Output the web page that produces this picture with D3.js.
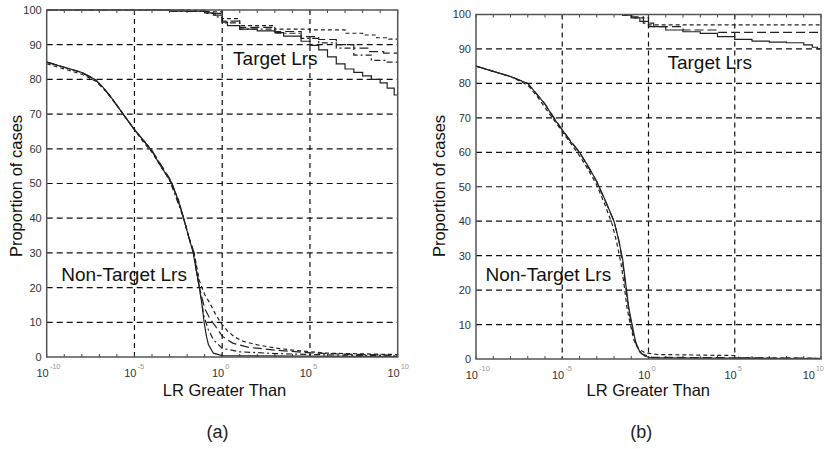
<!DOCTYPE html>
<html>
<head>
<meta charset="utf-8">
<script src="https://cdn.jsdelivr.net/npm/d3@7"></script>
<style>
  body { margin: 0; background: #fff; }
  svg { display: block; }
  text { font-family: "Liberation Sans", Arial, sans-serif; }
</style>
</head>
<body>
<div id="chart"></div>
<script>
// exponents of LR on the x axis, percent of cases on y
var xTicks = [-10, -5, 0, 5, 10];
var yTicks = [0, 10, 20, 30, 40, 50, 60, 70, 80, 90, 100];
var minorTicks = d3.range(-10, 11);

// panel (a)
var nonTargetA1 = [[-10, 85], [-9, 83.5], [-8, 82], [-7.6, 81], [-7.2, 79.8], [-6.8, 77.8], [-6.4, 75.3], [-6, 72.5], [-5.5, 69], [-5, 65.5], [-4.5, 62.5], [-4, 59.3], [-3.5, 55], [-2.85, 50], [-2.5, 45], [-2.2, 40], [-1.9, 34.5], [-1.65, 30], [-1.45, 24], [-1.3, 20], [-1.15, 15], [-1.03, 10], [-0.9, 6], [-0.78, 3.5], [-0.5, 1.1], [0, 0.4], [10, 0.1]];
var nonTargetA2 = [[-10, 84.5], [-9, 83], [-8, 81.5], [-7.2, 79.5], [-6.5, 76], [-6, 72.5], [-5.5, 69], [-5, 65.5], [-4.5, 62], [-4, 59], [-3.5, 55], [-3, 51], [-2.5, 45.5], [-2.2, 40], [-1.9, 34.5], [-1.6, 30], [-1.3, 22], [-1.0, 18], [-0.7, 15.5], [-0.4, 12.5], [-0.1, 10], [0.3, 7.5], [0.7, 5.8], [1.2, 4.5], [2, 3.5], [3, 2.6], [4, 2], [5, 1.5], [6, 1.1], [8, 0.9], [10, 0.7]];
var nonTargetA3 = [[-10, 85], [-9, 83.5], [-8, 82], [-7.2, 79.8], [-6.6, 76.5], [-6, 72.5], [-5, 65.5], [-4, 59.5], [-3, 51.5], [-2.5, 45], [-2.2, 40], [-1.9, 34.5], [-1.6, 30], [-1.3, 20], [-1.0, 14], [-0.7, 11], [-0.4, 9], [0, 6], [0.6, 4], [1.5, 2.8], [3, 2], [5, 1.2], [7, 0.8], [10, 0.5]];
var nonTargetA4 = [[-10, 85], [-8, 82], [-7.2, 79.8], [-6.6, 76.5], [-6, 72.5], [-5, 65.5], [-4, 59.5], [-3, 51], [-2.2, 40], [-1.65, 30], [-1.3, 20], [-1.05, 12], [-0.8, 8], [-0.5, 5], [0, 2.5], [1, 1.5], [3, 1], [6, 0.6], [10, 0.3]];
var targetA1 = [[-10, 100], [-6, 100], [-3, 99.7], [-1, 99.2], [-0.5, 98.5], [0, 96.5], [0.3, 95.5], [1, 94.5], [2, 94], [3, 93.5], [3.5, 92.5], [4.5, 91], [5, 89.8], [5.5, 88.5], [6, 86.5], [6.5, 84.5], [7, 83], [7.5, 82], [8, 81], [8.5, 80], [9, 79], [9.4, 77.5], [9.8, 75.5], [10, 75.5]];
var targetA2 = [[-10, 100], [-6, 100], [-3, 99.6], [-1, 99], [-0.4, 98], [0, 96.3], [1, 94.5], [3, 93.3], [4.5, 91.8], [5.5, 90.5], [6.5, 89], [7.5, 87], [8.5, 85.5], [9.3, 85], [10, 85]];
var targetA3 = [[-10, 100], [-6, 100], [-2, 99.6], [-0.8, 99], [0, 96.8], [1, 95], [3, 93.8], [4.5, 92.3], [5.5, 91.5], [6.5, 90], [7.5, 89], [8.3, 88], [9.2, 87.6], [10, 87.6]];
var targetA4 = [[-10, 100], [-5, 100], [-1, 99.5], [0, 97.5], [1, 95.5], [3, 94.5], [5, 94.3], [7, 93.3], [8, 92.8], [8.8, 92], [9.5, 91.6], [10, 91.6]];

// panel (b)
var nonTargetB1 = [[-10, 85], [-9, 83.5], [-8, 82], [-7.5, 81], [-7, 80], [-6.5, 77], [-6, 74], [-5.5, 70], [-5, 66.5], [-4.5, 63], [-4, 60], [-3.5, 56], [-3, 51.5], [-2.5, 46], [-2, 40], [-1.75, 35], [-1.5, 29], [-1.3, 21], [-1.15, 15], [-0.95, 10], [-0.75, 5], [-0.5, 2], [-0.2, 0.8], [0.2, 0.3], [10, 0.1]];
var nonTargetB2 = [[-10, 85], [-9, 83.5], [-8, 82], [-7, 79.5], [-6.5, 76.5], [-6, 73], [-5.5, 69.5], [-5, 66], [-4.5, 62.5], [-4, 59], [-3.5, 55], [-3, 50.5], [-2.5, 44.5], [-2.1, 39], [-1.85, 34], [-1.6, 28], [-1.4, 21], [-1.25, 15], [-1.05, 10], [-0.85, 5.5], [-0.6, 3], [-0.2, 1.8], [0.5, 1.3], [5, 1], [5.3, 0.3], [10, 0.2]];
var nonTargetB3 = [[-10, 85], [-8, 82], [-7, 80], [-6, 74], [-5, 66.5], [-4, 60], [-3, 51.5], [-2, 40], [-1.7, 34], [-1.5, 28], [-1.3, 20], [-1.1, 13], [-0.92, 8], [-0.7, 4], [-0.4, 1.5], [0.2, 0.5], [10, 0.2]];
var targetB1 = [[-10, 100], [-2, 100], [-1.5, 99.8], [-1, 99], [-0.5, 98], [0, 96.5], [1, 95.5], [2, 95], [3, 94.5], [4, 93.6], [5, 92.8], [6, 92.3], [7, 92], [8, 91.8], [9, 91.2], [9.5, 90.5], [9.8, 90], [10, 90]];
var targetB2 = [[-10, 100], [-1.5, 99.8], [-1, 99.3], [-0.3, 97.5], [0.3, 96.5], [2, 95.5], [4, 94.8], [10, 94.7]];
var targetB3 = [[-10, 100], [-1.5, 99.9], [-0.8, 99], [0, 97], [10, 96.8]];

var captions = ['(a)', '(b)'];
var xTitle = 'LR Greater Than';
var yTitle = 'Proportion of cases';

var width = 825, height = 449;
var svg = d3.select('#chart').append('svg')
    .attr('width', width)
    .attr('height', height);

var dashes = ['none', '4,3', '9,4', '6,3,2,3'];

var panels = [
    {
        left: 46.7, right: 397.7, top: 10, bottom: 357,
        nonTarget: [nonTargetA1, nonTargetA2, nonTargetA3, nonTargetA4],
        target: [targetA1, targetA4, targetA3, targetA2],
        targetLabel: [0.62, 84.2],
        nonTargetLabel: [-9.17, 21.9],
        caption: captions[0], yTitleX: 22, xTitleX: 224.5
    },
    {
        left: 476, right: 821, top: 14.5, bottom: 359,
        nonTarget: [nonTargetB1, nonTargetB2, nonTargetB3],
        target: [targetB1, targetB3, targetB2],
        targetLabel: [1.1, 84.2],
        nonTargetLabel: [-9.45, 22.6],
        caption: captions[1], yTitleX: 445, xTitleX: 648.3
    }
];

panels.forEach(function(p, pi) {
    var x = d3.scaleLog()
        .domain([1e-10, 1e10])
        .range([p.left, p.right]);
    var y = d3.scaleLinear()
        .domain([0, 100])
        .range([p.bottom, p.top]);
    var g = svg.append('g');

    var clipId = 'clip' + pi;
    svg.append('clipPath').attr('id', clipId)
        .append('rect')
        .attr('x', p.left).attr('y', p.top - 1)
        .attr('width', p.right - p.left).attr('height', p.bottom - p.top + 1);

    // grid lines
    g.selectAll('.hgrid')
        .data(yTicks.filter(function(d) { return d > 0 && d < 100; }))
        .enter().append('line')
        .attr('x1', p.left).attr('x2', p.right)
        .attr('y1', function(d) { return y(d); })
        .attr('y2', function(d) { return y(d); })
        .attr('stroke', '#111')
        .attr('stroke-width', 1.2)
        .attr('stroke-dasharray', '6,4');
    g.selectAll('.vgrid')
        .data(xTicks.filter(function(d) { return d > -10 && d < 10; }))
        .enter().append('line')
        .attr('x1', function(d) { return x(Math.pow(10, d)); })
        .attr('x2', function(d) { return x(Math.pow(10, d)); })
        .attr('y1', p.top).attr('y2', p.bottom)
        .attr('stroke', '#111')
        .attr('stroke-width', 1.2)
        .attr('stroke-dasharray', '5,4');

    // minor ticks top and bottom
    minorTicks.forEach(function(e) {
        var xx = x(Math.pow(10, e));
        g.append('line').attr('x1', xx).attr('x2', xx)
            .attr('y1', p.bottom).attr('y2', p.bottom - 3)
            .attr('stroke', '#444');
        g.append('line').attr('x1', xx).attr('x2', xx)
            .attr('y1', p.top).attr('y2', p.top + 3)
            .attr('stroke', '#444');
    });

    var line = d3.line()
        .x(function(d) { return x(Math.pow(10, d[0])); })
        .y(function(d) { return y(d[1]); });
    var stepLine = d3.line()
        .curve(d3.curveStepAfter)
        .x(function(d) { return x(Math.pow(10, d[0])); })
        .y(function(d) { return y(d[1]); });

    var curves = g.append('g').attr('clip-path', 'url(#' + clipId + ')');
    curves.selectAll('.nt')
        .data(p.nonTarget)
        .enter().append('path')
        .attr('d', line)
        .attr('fill', 'none')
        .attr('stroke', '#222')
        .attr('stroke-width', 1.2)
        .attr('stroke-dasharray', function(d, i) { return dashes[i]; });
    curves.selectAll('.tg')
        .data(p.target)
        .enter().append('path')
        .attr('d', stepLine)
        .attr('fill', 'none')
        .attr('stroke', '#222')
        .attr('stroke-width', 1.2)
        .attr('stroke-dasharray', function(d, i) { return dashes[i]; });

    // frame
    g.append('rect')
        .attr('x', p.left).attr('y', p.top)
        .attr('width', p.right - p.left)
        .attr('height', p.bottom - p.top)
        .attr('fill', 'none')
        .attr('stroke', '#555')
        .attr('stroke-width', 1.5);

    // y tick labels
    g.selectAll('.ylab')
        .data(yTicks)
        .enter().append('text')
        .attr('x', p.left - 5)
        .attr('y', function(d) { return y(d); })
        .attr('dy', '0.36em')
        .attr('text-anchor', 'end')
        .attr('font-size', 11)
        .attr('fill', '#333')
        .text(function(d) { return d; });

    // x tick labels as 10 with exponent
    function atEdge(d) { return x(Math.pow(10, d)) + 12 > width; }
    var xl = g.selectAll('.xlab')
        .data(xTicks)
        .enter().append('g')
        .attr('transform', function(d) {
            return 'translate(' + x(Math.pow(10, d)) + ',' + (p.bottom + 20) + ')';
        });
    xl.append('text')
        .attr('x', function(d) { return atEdge(d) ? -6 : 2; })
        .attr('text-anchor', 'end')
        .attr('font-size', 11)
        .attr('fill', '#333')
        .text('10');
    xl.append('text')
        .attr('x', function(d) { return atEdge(d) ? 3 : 3; })
        .attr('y', -8)
        .attr('text-anchor', function(d) { return atEdge(d) ? 'end' : 'start'; })
        .attr('font-size', 7.5)
        .attr('fill', '#999')
        .text(function(d) { return d; });

    // annotations
    g.append('text')
        .attr('x', x(Math.pow(10, p.targetLabel[0])))
        .attr('y', y(p.targetLabel[1]))
        .attr('font-size', 19)
        .attr('fill', '#111')
        .text('Target Lrs');
    g.append('text')
        .attr('x', x(Math.pow(10, p.nonTargetLabel[0])))
        .attr('y', y(p.nonTargetLabel[1]))
        .attr('font-size', 19)
        .attr('fill', '#111')
        .text('Non-Target Lrs');

    // axis titles
    g.append('text')
        .attr('transform', 'translate(' + p.yTitleX + ',186) rotate(-90)')
        .attr('text-anchor', 'middle')
        .attr('font-size', 16.5)
        .attr('fill', '#111')
        .text(yTitle);
    g.append('text')
        .attr('x', p.xTitleX)
        .attr('y', 396)
        .attr('text-anchor', 'middle')
        .attr('font-size', 16.5)
        .attr('fill', '#111')
        .text(xTitle);

    // caption
    g.append('text')
        .attr('x', p.xTitleX - 7)
        .attr('y', 438)
        .attr('text-anchor', 'middle')
        .attr('font-family', '"Liberation Serif", serif')
        .attr('font-size', 18)
        .attr('fill', '#222')
        .text(p.caption);
});
</script>
</body>
</html>
